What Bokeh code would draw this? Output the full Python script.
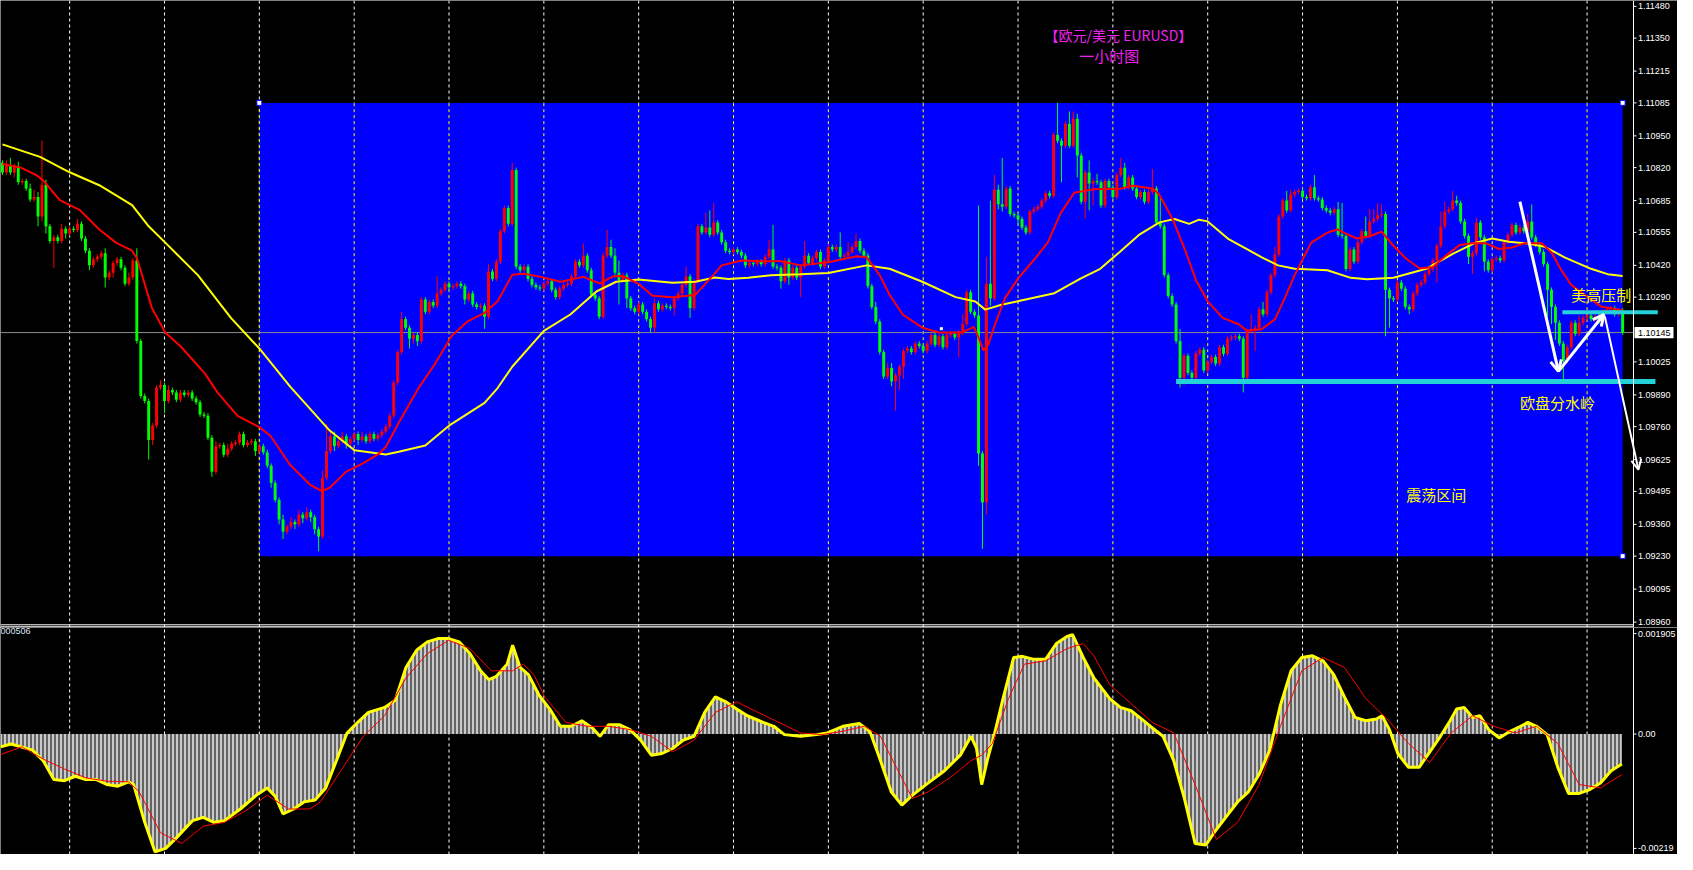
import numpy as np
from bokeh.plotting import figure
from bokeh.layouts import column
from bokeh.models import Range1d, Arrow, OpenHead
from bokeh.core.properties import value
from bokeh.embed import file_html
from bokeh.resources import INLINE

# ---------------- data (prices in pips above 1.09000) ----------------
BASE = 1.09
PIP = 0.0001

first_open_pips = 184

close_pips = [
    180, 183, 180, 182.5, 176, 176.5, 173.5, 169, 170, 162, 175, 158, 152, 153.5, 152, 157, 155,
    157, 156.5, 159, 153, 148, 142, 144.5, 145.5, 147, 137, 139, 143, 144.5, 141, 134.5, 137, 144, 111, 88.5, 86.5, 70.5, 76.5, 92, 93,
    86.5, 91, 90, 87, 90, 89, 90, 87.5, 86, 81, 80.5, 71.5, 57.5, 68, 68.5, 64.5, 67, 69, 69.5, 73, 68.5, 69.5, 70, 66,
    68, 65.5, 60, 53, 46, 38, 33, 35, 37, 36, 40, 38.5, 41, 39, 34, 31, 55, 66, 72, 68, 70, 72, 69, 71,
    73, 70.5, 72, 70, 73, 71, 72.5, 74, 76, 80.5, 94, 106.5, 120, 116.5, 112, 113.5, 111, 128, 123, 127, 125.5, 130.5, 132, 134.5,
    133, 133.5, 134.5, 133.5, 128, 130.5, 126, 125, 125.5, 121, 139.5, 136.5, 143.5, 156, 165.5, 159, 181, 141.5, 140, 141.5, 136.5, 134, 133, 132.5,
    134.5, 135.5, 132, 129, 132.5, 134, 134.5, 137.5, 143.5, 142, 146, 140, 130, 128.5, 121, 146, 149.5, 146, 139, 136, 138, 128.5, 124.5, 123,
    126, 123, 120, 116.5, 126.5, 124, 125.5, 125, 124.5, 128.5, 130.5, 134, 137.5, 124.5, 135.5, 158, 155.5, 157.5, 154.5, 159.5, 155.5, 151.5, 148, 147.5,
    148.5, 147.5, 146, 142, 143, 142.5, 143.5, 142.5, 145.5, 148.5, 141.5, 141, 135.5, 144, 137, 141, 137, 141.5, 146, 143, 145, 147.5, 141.5, 144,
    149.5, 148.5, 149.5, 145.5, 146, 147.5, 149.5, 152, 148, 146, 133.5, 125, 119, 106.5, 96.5, 100, 94.5, 97, 100.5, 107, 108, 106.5, 110, 109,
    107, 110, 113.5, 109.5, 113, 108.5, 113.5, 114, 112.5, 114.5, 118, 131, 123, 121.5, 65, 45, 134.5, 128.5, 173, 167, 166, 173.5, 163, 162.5,
    161, 157.5, 155.5, 164, 165, 166, 168.5, 171.5, 170.5, 195.5, 193, 191, 200, 191, 202, 187, 168, 180, 175.5, 176.5, 176, 166.5, 176.5, 174,
    170, 179, 182, 174, 178, 173.5, 170, 172, 168, 172, 173.5, 159.5, 158, 138, 129.5, 126, 111, 96, 105, 98, 96, 106, 107.5, 99,
    102.5, 104.5, 101.8, 108.5, 105.8, 112, 112.5, 113, 112, 96, 115, 116, 116.5, 124, 122, 131, 138, 146.5, 162, 168.5, 164.5, 171, 172, 172.5,
    170, 169.5, 174, 169.5, 169, 165.5, 164.5, 163.5, 165, 154.5, 154, 140.5, 148.5, 143.5, 151.5, 156, 154, 160, 161, 162.5, 163, 132, 128.5, 128,
    135, 132.5, 125, 124, 130.5, 134, 135, 138.5, 140.5, 144, 150, 158, 164, 165, 168.5, 167.5, 160, 154, 145.5, 147, 159.5, 153.5, 143.5, 140,
    144.5, 145, 144, 151.5, 154.5, 158.5, 155.5, 157.5, 156, 160, 153.5, 150.5, 147.5, 142.5, 132, 125, 118.5, 110, 103, 108.5, 118.5, 114, 118.5, 120.5,
    121.5, 120, 121, 119, 123, 124, 124.5, 122, 123.5, 114.5,
]

wick_up = [
    1, 2, 3, 1, 2, 1, 1, 2, 3, 2, 18, 2, 1, 1, 1, 2, 1,
    1, 1, 2, 1, 1, 1, 1, 1, 1, 2, 1, 1, 1, 1, 1, 2, 1, 5, 1, 1, 1, 1, 1, 2,
    1, 2, 1, 1, 1, 1, 1, 1, 1, 1, 1, 1, 1, 2, 1, 1, 2, 1, 1, 1, 1, 1, 1, 1,
    1, 1, 1, 1, 1, 1, 2, 1, 2, 1, 2, 1, 2, 1, 1, 1, 3, 11, 2, 2, 1, 2, 1, 1,
    1, 1, 2, 1, 1, 1, 1, 1, 1, 1, 1, 1, 3, 1, 1, 1, 1, 1, 1, 1, 1, 7, 1, 1,
    1, 1, 1, 1, 1, 1, 1, 1, 1, 1, 3, 1, 1, 1, 1, 1, 3, 1, 1, 1, 1, 1, 1, 1,
    1, 1, 1, 1, 1, 1, 1, 1, 1, 1, 5, 1, 1, 1, 1, 1, 7, 3, 3, 5, 1, 1, 1, 1,
    1, 1, 1, 1, 2, 1, 1, 1, 1, 1, 1, 1, 4, 1, 1, 1, 1, 6, 7, 8, 1, 1, 1, 1,
    1, 1, 1, 1, 1, 1, 1, 1, 1, 4, 10, 1, 1, 1, 1, 1, 1, 1, 6, 1, 1, 1, 1, 1,
    1, 1, 1, 6, 1, 4, 1, 3, 1, 1, 1, 1, 2, 1, 1, 2, 2, 1, 1, 1, 1, 1, 1, 1,
    1, 1, 1, 1, 1, 1, 1, 1, 1, 1, 4, 1, 1, 1, 45, 1, 11, 34, 6, 2, 19, 1, 1, 1,
    1, 1, 1, 1, 1, 1, 1, 1, 1, 1, 13, 1, 1, 5, 3, 2, 1, 1, 5, 1, 3, 1, 1, 1,
    1, 1, 4, 2, 1, 1, 1, 1, 1, 1, 8, 1, 10, 1, 1, 1, 1, 5, 1, 1, 1, 1, 1, 1,
    1, 1, 1, 1, 1, 1, 1, 1, 1, 1, 1, 6, 1, 1, 3, 1, 1, 3, 1, 1, 4, 2, 1, 1,
    1, 1, 1, 5, 1, 1, 1, 1, 1, 3, 13, 1, 1, 1, 1, 1, 6, 5, 4, 5, 4, 1, 1, 1,
    1, 1, 1, 1, 1, 1, 1, 1, 1, 1, 1, 6, 4, 1, 4, 2, 1, 1, 1, 1, 2, 1, 1, 1,
    1, 1, 1, 1, 1, 1, 1, 1, 1, 3, 7, 1, 1, 1, 1, 1, 1, 1, 1, 1, 1, 1, 3, 1,
    1, 1, 1, 1, 1, 1, 1, 1, 1, 1,
]

wick_dn = [
    1, 1, 1, 2, 1, 1, 1, 1, 1, 4, 2, 3, 1, 11, 1, 1, 2,
    1, 1, 1, 1, 1, 2, 1, 1, 1, 4, 1, 2, 1, 1, 1, 1, 1, 1, 1, 1, 8, 2, 1, 1,
    5, 1, 1, 1, 1, 1, 1, 1, 1, 1, 1, 1, 2, 1, 1, 1, 1, 1, 1, 1, 1, 1, 1, 2,
    1, 1, 1, 2, 1, 2, 3, 1, 1, 2, 1, 2, 1, 2, 2, 6, 1, 1, 1, 2, 1, 1, 2, 1,
    1, 2, 1, 1, 1, 1, 1, 1, 1, 1, 1, 1, 1, 1, 4, 2, 2, 1, 1, 1, 1, 1, 1, 1,
    1, 1, 1, 1, 2, 1, 1, 1, 1, 5, 1, 1, 1, 1, 1, 1, 1, 1, 1, 1, 1, 1, 1, 1,
    1, 1, 1, 1, 1, 1, 1, 1, 1, 1, 1, 1, 1, 1, 1, 1, 1, 1, 2, 10, 1, 4, 1, 1,
    1, 1, 1, 2, 2, 1, 1, 1, 1, 3, 1, 1, 1, 4, 1, 1, 1, 1, 1, 1, 1, 1, 1, 1,
    1, 1, 1, 1, 1, 1, 1, 1, 1, 1, 1, 1, 3, 1, 3, 1, 1, 8, 1, 1, 1, 1, 1, 1,
    1, 1, 1, 1, 1, 1, 1, 1, 1, 1, 1, 1, 1, 1, 1, 1, 2, 12, 6, 5, 1, 1, 1, 1,
    1, 1, 1, 1, 1, 1, 1, 1, 1, 8, 1, 1, 1, 1, 5, 19, 5, 3, 1, 2, 2, 1, 1, 1,
    2, 1, 1, 1, 1, 1, 1, 1, 1, 1, 1, 15, 1, 1, 1, 9, 1, 7, 11, 9, 1, 1, 1, 1,
    1, 1, 1, 1, 1, 1, 1, 1, 1, 1, 1, 1, 1, 1, 1, 1, 1, 4, 3, 1, 1, 1, 1, 1,
    1, 1, 1, 1, 1, 1, 1, 1, 1, 6, 1, 1, 9, 1, 1, 1, 1, 1, 1, 1, 1, 1, 1, 1,
    1, 1, 1, 1, 1, 1, 1, 1, 1, 1, 1, 1, 1, 1, 1, 1, 1, 1, 1, 1, 1, 19, 12, 1,
    1, 1, 1, 2, 1, 1, 1, 1, 1, 1, 9, 1, 1, 1, 1, 1, 1, 1, 3, 7, 1, 1, 4, 1,
    1, 1, 1, 1, 1, 1, 1, 1, 1, 1, 1, 1, 1, 1, 11, 7, 7, 1, 8, 1, 1, 1, 1, 1,
    1, 1, 1, 1, 1, 1, 1, 1, 1, 1,
]

# moving averages (bar index, pips)
ma_fast_bar = [0, 4.5, 8.7, 10.3, 14.5, 19.5, 24.5, 28.7, 32.8, 34.1, 37.8, 41.2, 45.3, 51.2, 54.5, 59.5, 65.1, 67.8, 72.8, 77.8,
               80.8, 82.8, 87, 91.2, 95.3, 97, 100.3, 105.3, 109.5, 113.7, 117.8, 122, 125.3, 129, 132, 136.2, 141.2, 147, 151.2, 154.5,
               157, 161.2, 164.5, 169.5, 175.3, 179.5, 182, 187, 192.8, 197, 202, 209, 216.2, 218.7, 222, 224.5, 227.8, 232.8, 237, 242.8,
               245.8, 247, 248.2, 249.5, 251.2, 253.7, 257, 261.2, 264.5, 267.8, 271.2, 276.2, 282.8, 286.2, 291.2, 292.8, 296.2, 299.5, 302, 305,
               308.7, 312.8, 315, 318.7, 322, 324.5, 327, 331.2, 335.3, 337.8, 340.3, 342.8, 346.2, 349, 352, 355.3, 358.7, 362, 365.3, 368.7,
               372, 375.3, 378.7, 382, 385.3, 389.5, 392, 394.5, 397, 400.3, 404.5, 410]
ma_fast_pips = [183.5, 182.1, 178.8, 176.8, 168.7, 164.7, 156.7, 151.3, 148, 144.6, 124.6, 114.5, 108.5, 97.8, 89.8, 80.4, 75.7, 72.3, 60.3, 52.3,
                49.6, 51, 57.6, 61, 65, 67.7, 77.7, 91.8, 101.8, 113.2, 119.2, 122.6, 127.3, 138.2, 138.6, 137.3, 135.3, 137.3, 134.6, 137.5,
                137.7, 134.2, 129.6, 129, 129.9, 137.3, 142, 144, 143.7, 143.7, 142, 143.3, 145.7, 145.3, 138, 130, 121.9, 116.5, 114.5, 114.5,
                116.8, 112.5, 107.2, 109.8, 117.9, 128.6, 136.6, 144.6, 151.3, 163.4, 171.7, 173.2, 173.4, 174.6, 173.4, 170.8, 160.7, 147.3, 136, 127.3,
                120.6, 117.9, 115.2, 115.9, 119.9, 128.6, 138, 151.3, 155.4, 156.7, 154.7, 153, 154, 155.8, 150, 144.6, 140.7, 141.3, 146, 150.3,
                151.1, 151.1, 148.7, 149.3, 151.1, 151.1, 147.3, 140, 134, 130, 125.2, 123.5]

ma_slow_bar = [0, 9.5, 17, 24.5, 32.8, 37, 41.2, 49.5, 57.8, 65.1, 72.8, 82.8, 89.1, 97, 100.3, 107, 113, 122, 125.3, 129,
               137, 143.7, 150.3, 155.3, 161, 169.5, 175.3, 180.3, 183.7, 188.7, 194.5, 202, 209, 218.7, 224.5, 232.8, 241.2, 246.2, 248.7, 252.8,
               259.5, 266.2, 272.8, 277.8, 282.8, 287.8, 292.8, 296.6, 300.3, 302.8, 305, 310.3, 318.7, 322.8, 327, 335.3, 341.2, 345.3, 352, 360.3,
               367, 372.8, 377, 381.2, 385.3, 390.3, 395.3, 402, 406.2, 410]
ma_slow_pips = [191.5, 186.4, 180.1, 174.8, 166.7, 158, 151.3, 137.9, 120.5, 107.8, 92.4, 74.4, 66.3, 64.6, 65.7, 68.3, 76.4, 85.7, 91.8, 100.5,
                115.2, 121.9, 131.3, 135.3, 136.2, 134.9, 135.3, 137, 136.4, 136.9, 138, 138.4, 138.9, 142, 140.6, 135.3, 129, 127.2, 123.9, 125.9,
                128.2, 130.6, 136.6, 140.6, 147.6, 154.7, 159.6, 161, 159, 160.7, 160, 152.7, 145.3, 142, 140.6, 140, 136.9, 136.3, 136.9, 140.6,
                146.7, 151.3, 153, 151.7, 151.1, 149.6, 145.3, 140.6, 138.4, 137.7]

# MACD (units of 0.00001)
macd_bar = [-0.5, 2.2, 7.6, 10.3, 13, 15.7, 18.4, 21.1, 23.8, 26.5, 29.2, 31.9, 33.2, 36, 38.6, 41.3, 44, 48.1, 50.8, 53.5,
            56.2, 60.2, 64.3, 67, 69.1, 71, 73.7, 76.4, 79.1, 81.8, 84.5, 87.2, 89.9, 92.6, 96.7, 99.4, 102.1, 104.8, 107.5, 110.2,
            112.9, 115.6, 118.3, 121, 123.1, 125, 127.7, 129.1, 131, 133.1, 135.8, 138.5, 141.2, 143.9, 146.6, 149.3, 151.2, 153.4, 156.1, 158.8,
            161.5, 164.2, 166.9, 169.6, 172.3, 175, 177.7, 180.4, 183.1, 185.8, 188.5, 192.5, 195.2, 197.9, 202, 206, 208.7, 212.7, 216.8, 219.5,
            222.2, 224.9, 227.6, 230.3, 234.3, 238.4, 242.4, 245.1, 246.5, 247.8, 249.2, 251.1, 253.2, 255.9, 258.1, 260.8, 264, 266.7, 269.4, 270.8,
            273.5, 276.2, 280.2, 282.9, 285.6, 288.3, 291, 293.7, 296.4, 299.1, 301.8, 304.5, 307.2, 309.9, 312.6, 315.3, 318, 320.7, 323.4, 326.1,
            328.8, 331.5, 334.2, 336.9, 339.6, 342.3, 345, 347.7, 349.1, 351, 353.1, 355.8, 358.5, 361.2, 363.9, 366.1, 368, 369.9, 372, 373.9,
            376.1, 378.8, 381.5, 384.2, 386, 388.2, 390.9, 393.6, 396.3, 399, 401.7, 404.4, 407.1, 409.8]
macd_val = [-23, -18, -29, -48, -82, -84, -76, -82, -82, -91, -94, -86, -91, -159, -212, -206, -187, -156, -150, -159,
            -156, -135, -110, -97, -113, -144, -135, -122, -119, -97, -48, 2, 21, 39, 48, 61, 120, 151, 166, 172,
            172, 166, 145, 114, 98, 104, 126, 160, 120, 107, 70, 45, 14, 14, 24, 11, -4, 17, 17, 8,
            -11, -38, -35, -26, -11, -4, 39, 67, 58, 45, 33, 21, 14, -1, -4, -1, 2, 14, 19, 5,
            -48, -104, -128, -110, -88, -66, -38, -4, -26, -91, -48, 2, 64, 138, 140, 135, 135, 163, 176, 179,
            138, 101, 64, 48, 42, 27, 11, -4, -48, -116, -197, -200, -172, -147, -122, -104, -73, -29, 52, 114,
            138, 141, 132, 107, 67, 30, 24, 27, 33, 8, -35, -60, -60, -32, -4, 21, 45, 48, 30, 33,
            8, -7, 5, 14, 21, 14, -1, -60, -107, -107, -100, -88, -66, -54]

signal_bar = [-0.5, 4.9, 10.3, 15.7, 21.1, 26.5, 31.9, 34.6, 40, 45.4, 50.8, 56.2, 61.6, 67, 72.4, 77.8, 80.5, 85.9, 91.3, 96.7,
              102.1, 107.5, 112.9, 118.3, 123.7, 129.1, 131.8, 134.5, 137.2, 142.6, 148, 153.4, 158.8, 164.2, 169.6, 175, 180.4, 185.8, 191.2, 196.5,
              202, 207.3, 212.7, 218.1, 222.2, 226.2, 230.3, 234.3, 239.7, 245.1, 247.8, 250.5, 254.6, 258.6, 264, 269.4, 273.5, 276.2, 280.2, 285.6,
              291, 296.4, 301.8, 307.2, 312.6, 318, 323.4, 328.8, 334.2, 339.6, 345, 350.4, 355.8, 361.2, 366.6, 372, 377.4, 382.8, 388.2, 393.6,
              399, 404.4, 409.8]
signal_val = [-37, -23, -45, -63, -79, -85, -86, -104, -178, -197, -166, -159, -138, -110, -135, -135, -122, -63, -4, 33,
              101, 145, 169, 154, 114, 114, 126, 107, 67, 21, 14, 14, 8, -4, -32, -11, 39, 58, 39, 21,
              2, -1, 5, 14, -4, -60, -116, -104, -79, -48, -38, -17, 64, 126, 132, 154, 163, 141, 89, 55,
              21, 2, -91, -190, -159, -91, 14, 114, 138, 120, 64, 27, -17, -51, 2, 33, 14, 2, 14, -17,
              -91, -97, -73]

price_ticks = [1.11480, 1.11350, 1.11215, 1.11085, 1.10950, 1.10820, 1.10685, 1.10555, 1.10420, 1.10290,
               1.10025, 1.09890, 1.09760, 1.09625, 1.09495, 1.09360, 1.09230, 1.09095, 1.08960]
macd_ticks = [181, 0, -206]
macd_tick_labels = ["0.001905", "0.00", "-0.00219"]

# drawn objects (bar index / price)
box_left, box_right, box_bottom, box_top = 65, 410, 1.09230, 1.11085
support_level, support_from, support_to = 1.09945, 297, 418.3
resist_level, resist_from, resist_to = 1.10228, 394.75, 418.9
first_grid_bar, bars_per_day = 17, 24

# ---------------- derived ----------------
def price(v):
    return BASE + np.asarray(v, dtype=float) * PIP

n = len(close_pips)
xs = np.arange(n)
close = price(close_pips)
opn = np.concatenate([[price(first_open_pips)], close[:-1]])
btop = np.maximum(opn, close)
bbot = np.minimum(opn, close)
high = btop + np.asarray(wick_up[:n], dtype=float) * PIP
low = bbot - np.asarray(wick_dn[:n], dtype=float) * PIP
col = np.where(close >= opn, "#FF0000", "#00FF00")
thin = (btop - bbot) < 0.4 * PIP
btop = np.where(thin, btop + 0.2 * PIP, btop)
bbot = np.where(thin, bbot - 0.2 * PIP, bbot)
last_price = float(close[-1])

W = 1677
AXIS_PX = 44                      # width of the price-scale strip on the right
X0 = -0.5
AX = 412.75                        # bar position of the price-scale line
SCALE = (W - AXIS_PX) / (AX - X0)  # px per bar
X1 = X0 + W / SCALE
Y0, Y1 = 1.08938, 1.11504
M0, M1 = -217, 192
xr = Range1d(X0, X1)
LABEL_FONT = "Liberation Sans"
LABEL_SIZE = "9px"

common = dict(width=W, x_range=xr, output_backend="svg", toolbar_location=None,
              x_axis_location=None, y_axis_location=None,
              background_fill_color="black", border_fill_color="black",
              min_border_left=0, min_border_right=0, min_border_top=0, min_border_bottom=0)

def price_scale(fig, lo, hi, ticks, labels):
    fig.segment(x0=[AX], x1=[AX], y0=[lo], y1=[hi], line_color="white", line_width=1)
    fig.segment(x0=[AX] * len(ticks), x1=[AX + 3 / SCALE] * len(ticks), y0=ticks, y1=ticks,
                line_color="white", line_width=1)
    fig.text(x=[AX + 4.5 / SCALE] * len(ticks), y=ticks, text=labels, text_align="left",
             text_baseline="middle", text_color="white", text_font=value(LABEL_FONT),
             text_font_size=value(LABEL_SIZE))

# ---------------- main price panel ----------------
p = figure(height=627, y_range=Range1d(Y0, Y1), **common)
p.grid.visible = False
p.outline_line_color = None

grid_x = list(range(first_grid_bar, n, bars_per_day))
p.segment(x0=grid_x, x1=grid_x, y0=Y0, y1=Y1, line_color="white", line_width=1, line_dash="3 3")
p.quad(left=[box_left], right=[box_right], bottom=[box_bottom], top=[box_top],
       fill_color="#0000FF", line_color=None)
gin = [g for g in grid_x if box_left <= g <= box_right]
p.segment(x0=gin, x1=gin, y0=box_bottom, y1=box_top, line_color="#FFFF00", line_width=1, line_dash="3 3")
p.segment(x0=[X0], x1=[AX], y0=[last_price], y1=[last_price], line_color="#8c8c8c", line_width=1)

p.segment(x0=xs, x1=xs, y0=low, y1=high, line_color=col, line_width=1)
p.vbar(x=xs, width=0.74, top=btop, bottom=bbot, fill_color=col, line_color=None)

p.line(ma_slow_bar, price(ma_slow_pips), line_color="#FFFF00", line_width=2)
p.line(ma_fast_bar, price(ma_fast_pips), line_color="#FF0000", line_width=2)

p.scatter(x=[box_left, box_right, box_right], y=[box_top, box_top, box_bottom], marker="square",
          size=5, fill_color="white", line_color="#0000FF", line_width=1)
p.scatter(x=[237.6], y=[1.10161], marker="square", size=3, fill_color="white", line_color=None)

# horizontal support / resistance
p.segment(x0=[support_from], x1=[support_to], y0=[support_level], y1=[support_level],
          line_color="#22D2D8", line_width=5)
p.segment(x0=[resist_from], x1=[resist_to], y0=[resist_level], y1=[resist_level],
          line_color="#22D2D8", line_width=4)
# white arrows
p.add_layout(Arrow(end=OpenHead(size=11, line_color="white", line_width=3),
                   x_start=384, y_start=1.10681, x_end=393.75, y_end=1.09986,
                   line_color="white", line_width=3))
p.add_layout(Arrow(end=OpenHead(size=11, line_color="white", line_width=3),
                   x_start=393.75, y_start=1.09986, x_end=405.25, y_end=1.10219,
                   line_color="white", line_width=3))
p.add_layout(Arrow(end=OpenHead(size=10, line_color="white", line_width=2),
                   x_start=405.5, y_start=1.10211, x_end=414, y_end=1.09584,
                   line_color="white", line_width=2))

# texts
def cjk(fig, x, y, s, color, size, align):
    fig.text(x=[x], y=[y], text=[s], text_align=align, text_baseline="middle", text_color=color,
             text_font=value("Noto Sans CJK SC"), text_font_size=value(size))

cjk(p, 282.4, 1.11363, "【欧元/美元 EURUSD】", "#F020F0", "14px", "center")
cjk(p, 280.1, 1.11279, "一小时图", "#F020F0", "15px", "center")
cjk(p, 397, 1.10301, "美高压制", "#FFFF00", "15px", "left")
cjk(p, 384, 1.09857, "欧盘分水岭", "#FFFF00", "15px", "left")
cjk(p, 355.25, 1.09484, "震荡区间", "#FFFF00", "15px", "left")

# price scale with current price tag
price_scale(p, Y0, Y1, price_ticks, [f"{t:.5f}" for t in price_ticks])
p.quad(left=[AX + 1 / SCALE], right=[AX + 40 / SCALE], bottom=[last_price - 2.3 * PIP],
       top=[last_price + 2.3 * PIP], fill_color="white", line_color=None)
p.text(x=[AX + 4.5 / SCALE], y=[last_price], text=[f"{last_price:.5f}"], text_align="left",
       text_baseline="middle", text_color="black", text_font=value(LABEL_FONT),
       text_font_size=value(LABEL_SIZE))
# separator lines
p.segment(x0=[X0, X0], x1=[AX, AX], y0=[Y0 + 0.00003, Y0 + 0.00011], y1=[Y0 + 0.00003, Y0 + 0.00011],
          line_color="white", line_width=1)

# ---------------- MACD panel ----------------
q = figure(height=227, y_range=Range1d(M0, M1), **common)
q.grid.visible = False
q.outline_line_color = None

q.segment(x0=grid_x, x1=grid_x, y0=M0, y1=M1, line_color="white", line_width=1, line_dash="3 3")
q.varea(x=macd_bar, y1=0, y2=macd_val, fill_color="#c8c8c8",
        hatch_pattern="vertical_line", hatch_color="black", hatch_scale=4, hatch_weight=1)
q.line(macd_bar, macd_val, line_color="#FFFF00", line_width=3)
q.line(signal_bar, signal_val, line_color="#FF0000", line_width=1)
price_scale(q, M0, M1, macd_ticks, macd_tick_labels)
q.text(x=[X0], y=[M1 - 1], text=["000506"], text_align="left", text_baseline="top",
       text_color="#dfe8f8", text_font=value(LABEL_FONT), text_font_size=value(LABEL_SIZE))

layout = column(p, q, spacing=0)
open("out.html", "w").write(file_html(layout, INLINE, title="EURUSD H1"))
